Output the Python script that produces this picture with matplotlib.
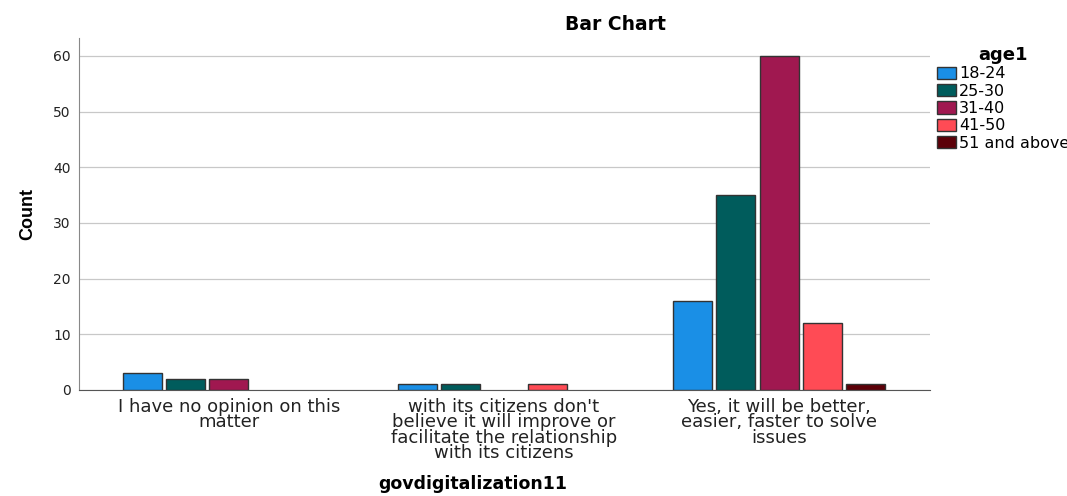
import numpy as np
import matplotlib.pyplot as plt

plt.rcParams['font.family'] = ['DejaVu Sans']

categories = ["I have no opinion on this\nmatter",
              "with its citizens don't\nbelieve it will improve or\nfacilitate the relationship\nwith its citizens",
              "Yes, it will be better,\neasier, faster to solve\nissues"]
groups = ["18-24", "25-30", "31-40", "41-50", "51 and above"]
counts = {
    "18-24": [3, 1, 16],
    "25-30": [2, 1, 35],
    "31-40": [2, 0, 60],
    "41-50": [0, 1, 12],
    "51 and above": [0, 0, 1],
}
colors = ["#1a8fe6", "#005c5c", "#a01850", "#ff4b55", "#5c0008"]

fig = plt.figure(figsize=(10.67, 4.96), dpi=100)
ax = fig.add_axes([0.074, 0.214, 0.798, 0.709])

x = np.arange(len(categories))
pitch = 0.157
width = 0.142
handles = []
for i, g in enumerate(groups):
    vals = np.array(counts[g], dtype=float)
    pos = x + (i - 2) * pitch
    keep = vals > 0
    ax.bar(pos[keep], vals[keep], width=width, color=colors[i],
           edgecolor="#333333", linewidth=1.0, zorder=3)
    handles.append(plt.Rectangle((0, 0), 1, 1, facecolor=colors[i],
                                 edgecolor="#333333", linewidth=1.0))

ax.set_xlim(-0.545, 2.55)
ax.set_ylim(0, 63.2)
ax.set_yticks(range(0, 61, 10))
ax.set_xticks(x)
ax.set_xticklabels(categories, fontsize=13, linespacing=0.8)
ax.tick_params(axis='both', length=0, colors="#222222")
ax.tick_params(axis='y', labelsize=10, pad=6)
ax.tick_params(axis='x', pad=6)
ax.grid(axis='y', color="#c8c8c8", linewidth=0.9, zorder=0)
ax.set_axisbelow(True)
for s in ['top', 'right']:
    ax.spines[s].set_visible(False)
ax.spines['left'].set_color("#888888")
ax.spines['bottom'].set_color("#555555")

ax.set_ylabel("Count", fontsize=13, fontweight='bold', labelpad=12,
              family='Liberation Sans')
fig.text(0.443, 0.006, "govdigitalization11", fontsize=12.5, fontweight='bold',
         ha='center', va='bottom')
fig.text(0.577, 0.94, "Bar Chart", fontsize=13.5, fontweight='bold', ha='center')

leg = fig.legend(handles, groups, loc='upper left', bbox_to_anchor=(0.868, 0.93),
                 frameon=False, fontsize=11.5, title="age1",
                 title_fontproperties={'weight': 'bold', 'size': 13},
                 handlelength=1.15, handleheight=0.8, handletextpad=0.2,
                 labelspacing=0.15, borderpad=0.2)

fig.savefig("out.png", dpi=100)
